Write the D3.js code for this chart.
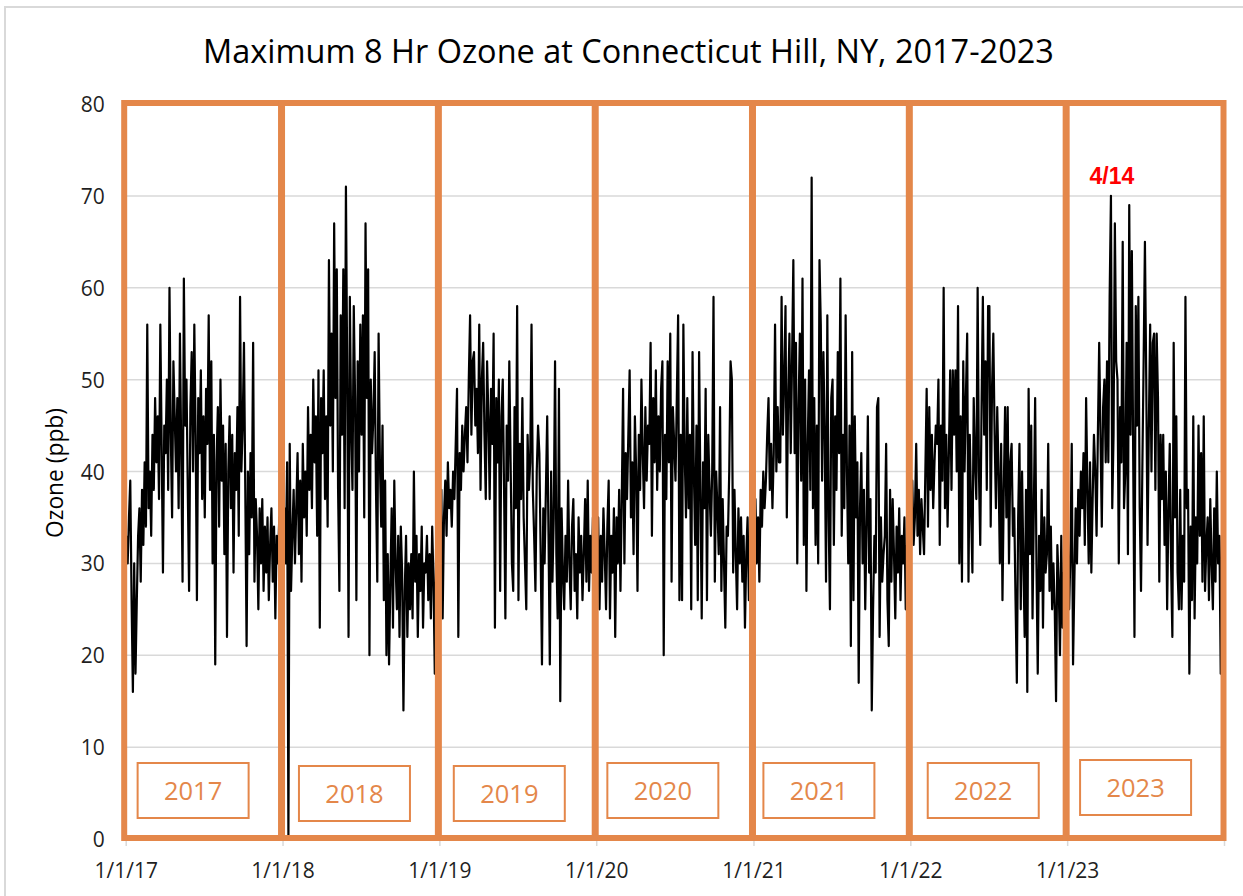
<!DOCTYPE html>
<html>
<head>
<meta charset="utf-8">
<script src="https://cdn.jsdelivr.net/npm/d3@7"></script>
<style>
html,body{margin:0;padding:0;background:#fff;}
svg{display:block;}
</style>
</head>
<body>
<svg id="chart" width="1243" height="896"></svg>
<script>
// ---------------- data ----------------
const chartTitle = "Maximum 8 Hr Ozone at Connecticut Hill, NY, 2017-2023";
const yAxisTitle = "Ozone (ppb)";
const peakLabel = "4/14";
const years = [2017, 2018, 2019, 2020, 2021, 2022, 2023];
const yearLabels = ["2017", "2018", "2019", "2020", "2021", "2022", "2023"];
const xTickLabels = ["1/1/17", "1/1/18", "1/1/19", "1/1/20", "1/1/21", "1/1/22", "1/1/23"];
const yTicks = [0, 10, 20, 30, 40, 50, 60, 70, 80];

// maximum 8-hr ozone (ppb), ~every 3 days (10 values per month)
const ozone2017 = [
  33,30,35,39,26,16,30,18,26,33, 36,28,38,32,41,34,56,36,40,33,
  44,38,48,41,46,37,56,43,29,45, 42,50,38,60,44,35,52,46,40,48,
  36,55,42,28,61,45,50,38,27,47, 53,40,56,44,26,48,42,51,37,46,
  35,49,43,57,38,52,30,44,19,41, 47,34,50,39,45,31,43,22,40,46,
  36,44,29,42,38,47,33,59,40,45, 54,38,21,40,31,42,35,54,28,37,
  33,25,36,30,37,27,34,29,35,26, 32,36,28,34,24,33,30,35,27,31];
const ozone2018 = [
  34,36,30,41,0,43,27,33,38,30, 36,42,31,39,28,43,35,40,33,47,
  38,44,36,50,41,46,33,51,23,48, 42,51,37,46,34,63,45,55,40,67,
  48,62,38,27,57,44,62,36,71,50, 22,59,45,38,58,48,26,52,40,56,
  44,57,35,67,48,62,20,50,42,46, 53,38,28,55,41,34,45,26,39,20,
  31,19,28,36,23,39,30,25,33,22, 34,29,14,27,33,22,30,25,31,24,
  40,28,33,22,31,27,34,23,30,29, 33,26,31,24,34,28,18,32,27,33];
const ozone2019 = [
  36,38,24,35,39,33,41,36,38,34, 40,37,43,49,22,42,38,45,40,44,
  47,41,50,57,44,52,53,45,49,42, 56,38,50,54,44,37,52,46,37,49,
  43,55,23,48,41,50,27,46,50,38, 24,45,39,52,41,30,27,47,36,58,
  26,43,37,48,35,30,25,44,38,41, 56,38,33,27,40,45,42,31,19,36,
  30,38,46,33,19,40,28,35,52,31, 24,49,15,36,29,25,33,28,39,30,
  25,34,37,27,31,24,35,29,33,26, 31,37,28,39,27,33,29,35,26,31];
const ozone2020 = [
  30,35,25,33,28,36,31,25,34,39, 24,33,29,36,22,35,30,38,27,37,
  49,30,42,37,44,51,35,41,31,46, 40,27,44,38,50,42,36,47,39,45,
  43,54,33,48,41,51,38,46,40,49, 52,20,44,37,52,41,55,28,47,43,
  39,48,57,26,44,26,56,42,35,48, 36,44,25,53,40,32,45,26,53,38,
  24,41,36,49,26,44,38,33,40,59, 28,40,36,31,47,27,37,30,23,34,
  33,40,52,50,29,38,31,25,36,30, 35,28,33,23,31,35,26,33,29,35];
const ozone2021 = [
  33,37,30,35,28,38,34,40,36,39, 44,48,38,43,36,42,56,40,47,41,
  41,59,44,50,58,35,48,55,42,52, 63,42,54,30,47,55,39,61,32,50,
  27,43,51,38,72,36,48,32,45,30, 63,56,39,53,44,28,57,35,25,48,
  50,32,46,38,53,42,61,33,44,36, 57,40,30,45,21,53,26,46,35,41,
  17,36,42,30,38,25,34,46,29,37, 14,25,33,29,47,48,22,35,28,31,
  33,43,26,21,38,28,37,31,24,34, 29,36,26,33,30,35,25,32,28,33];
const ozone2022 = [
  36,39,32,35,43,33,38,31,37,34, 31,40,49,34,47,38,44,36,41,45,
  43,50,32,45,39,60,36,44,34,42, 51,38,51,44,51,40,58,30,46,28,
  52,40,48,55,28,44,36,29,48,41, 37,60,40,32,47,59,44,52,38,58,
  58,34,49,55,44,36,47,40,30,43, 26,38,47,35,47,30,41,43,33,36,
  26,17,35,43,25,40,30,22,38,16, 49,31,45,24,36,48,30,18,33,27,
  38,23,35,29,31,43,27,34,25,30, 25,15,32,28,20,33,23,29,21,31];
const ozone2023 = [
  33,25,31,43,19,28,36,30,38,33, 40,36,42,32,48,38,30,41,29,37,
  44,40,33,44,54,44,34,47,50,41, 52,41,59,70,36,44,67,52,50,30,
  47,41,65,36,40,54,31,69,44,64, 42,22,58,45,59,36,27,40,52,65,
  50,32,45,56,40,54,55,38,55,48, 28,44,37,44,32,40,25,36,43,30,
  22,54,35,46,29,25,38,25,33,28, 59,36,38,18,34,26,46,24,35,30,
  45,33,42,28,46,27,32,35,26,37, 30,25,36,28,40,30,33,18,33,18];
const series = [ozone2017, ozone2018, ozone2019, ozone2020, ozone2021, ozone2022, ozone2023];

// ---------------- layout / style ----------------
const W = 1243, H = 896;
const orange = "#E4874A";
const grid = "#d9d9d9";
const textCol = "#1f1f1f";
const font = "'Open Sans', 'DejaVu Sans', sans-serif";
// manual placement of the year label boxes (offset from year centre, top)
const labelBoxDx = [-11, -6.5, -8.5, -12, -13, -5.5, -10];
const labelBoxTop = [763, 766, 766, 763, 763, 763, 760];

const svg = d3.select("#chart").attr("font-family", font);

svg.append("rect").attr("width", W).attr("height", H).attr("fill", "#fff");
// outer chart border (left/top visible)
svg.append("path").attr("d", "M5," + H + "V7H" + W)
  .attr("fill", "none").attr("stroke", grid).attr("stroke-width", 2);

const x = d3.scaleTime()
  .domain([new Date(years[0], 0, 1), new Date(years[years.length - 1] + 1, 0, 1)])
  .range([125.7, 1224]);
const y = d3.scaleLinear().domain([0, 80]).range([839, 104]);

// gridlines
svg.append("g").selectAll("line").data(yTicks.filter(d => d > 0)).join("line")
  .attr("x1", x.range()[0]).attr("x2", x.range()[1])
  .attr("y1", d => y(d)).attr("y2", d => y(d))
  .attr("stroke", grid).attr("stroke-width", 1.5);

// y axis
const ya = svg.append("g")
  .attr("transform", `translate(${x.range()[0]},0)`)
  .call(d3.axisLeft(y).tickValues(yTicks).tickSize(0).tickPadding(21));
ya.select(".domain").remove();
ya.attr("font-family", font).attr("font-size", 21);
ya.selectAll("text").attr("fill", textCol).attr("dy", "0.36em");

// x axis
const tickDates = years.concat([years[years.length - 1] + 1]).map(yr => new Date(yr, 0, 1));
const xa = svg.append("g")
  .attr("transform", `translate(0,${y(0)})`)
  .call(d3.axisBottom(x).tickValues(tickDates).tickSize(7)
    .tickFormat((d, i) => xTickLabels[i] || ""));
xa.select(".domain").remove();
xa.attr("font-family", font).attr("font-size", 21);
xa.selectAll(".tick line").attr("stroke", grid).attr("stroke-width", 1.5);
xa.selectAll("text").attr("fill", textCol).attr("y", 39).attr("dy", 0);

// data line
const points = [];
years.forEach((yr, k) => {
  const t0 = +new Date(yr, 0, 1), t1 = +new Date(yr + 1, 0, 1);
  const vals = series[k];
  vals.forEach((v, i) => points.push({
    date: new Date(t0 + (i + 0.5) / vals.length * (t1 - t0)), value: v, year: yr }));
});
svg.append("path").datum(points)
  .attr("fill", "none").attr("stroke", "#000").attr("stroke-width", 2.2)
  .attr("stroke-linejoin", "round")
  .attr("d", d3.line().x(d => x(d.date)).y(d => y(d.value)));

// orange year frames
svg.append("g").selectAll("rect").data(years).join("rect")
  .attr("x", yr => x(new Date(yr, 0, 1)) - 1.5)
  .attr("width", yr => x(new Date(yr + 1, 0, 1)) - x(new Date(yr, 0, 1)) + 1)
  .attr("y", 103).attr("height", 735)
  .attr("fill", "none").attr("stroke", orange).attr("stroke-width", 6);

// year label boxes
const lab = svg.append("g").selectAll("g").data(years).join("g")
  .attr("transform", (yr, i) => {
    const cx = (x(new Date(yr, 0, 1)) + x(new Date(yr + 1, 0, 1))) / 2 + labelBoxDx[i];
    return `translate(${cx},${labelBoxTop[i]})`;
  });
lab.append("rect").attr("x", -55.5).attr("y", 0).attr("width", 111).attr("height", 55)
  .attr("fill", "#fff").attr("stroke", orange).attr("stroke-width", 2);
lab.append("text").text((d, i) => yearLabels[i])
  .attr("x", 0).attr("y", 37).attr("text-anchor", "middle")
  .attr("fill", orange).attr("font-size", 25.5);

// peak annotation
const pts2023 = points.filter(p => p.year === 2023);
const peak = pts2023.reduce((a, b) => (b.value > a.value ? b : a));
svg.append("text").text(peakLabel)
  .attr("x", x(peak.date) + 1).attr("y", y(peak.value) - 12)
  .attr("text-anchor", "middle").attr("font-family", "'Liberation Sans', Arial, sans-serif")
  .attr("font-weight", "bold").attr("font-size", 23).attr("fill", "#ff0000");

// title
function fit(sel, target) {
  const fs = parseFloat(sel.attr("font-size"));
  const w = sel.node().getComputedTextLength();
  if (w > 0) sel.attr("font-size", fs * target / w);
}
const t = svg.append("text").text(chartTitle)
  .attr("x", 628.5).attr("y", 63).attr("text-anchor", "middle")
  .attr("font-size", 30).attr("fill", "#000");
fit(t, 851);

// y axis title
const yt = svg.append("text").text(yAxisTitle)
  .attr("transform", "translate(63,473) rotate(-90)")
  .attr("text-anchor", "middle").attr("font-size", 21).attr("fill", "#000");
fit(yt, 130);
</script>
</body>
</html>
